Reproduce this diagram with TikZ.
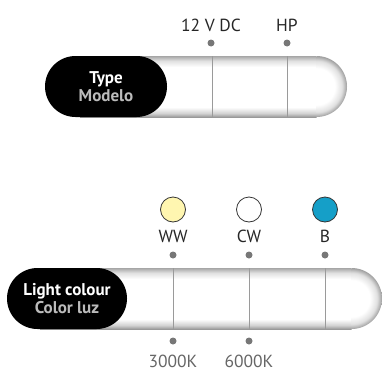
\documentclass[tikz,border=0pt]{standalone}
\usepackage{fontspec}
\setmainfont{PT Sans}
\usetikzlibrary{shapes.misc}
\definecolor{dotgray}{HTML}{777777}
\definecolor{linegray}{HTML}{9A9A9A}
\definecolor{subgray}{HTML}{BBBBBB}
\definecolor{wwfill}{HTML}{FFF6B0}
\definecolor{bfill}{HTML}{159FC8}
\pgfdeclareverticalshading{tube}{100bp}{color(0bp)=(black!40); color(25bp)=(black!40); color(28bp)=(black!18); color(33bp)=(white); color(66bp)=(white); color(71bp)=(black!12); color(75bp)=(black!35); color(100bp)=(black!35)}
\pgfdeclareradialshading{capshade}{\pgfpoint{0bp}{0bp}}{color(0bp)=(white); color(15bp)=(white); color(21bp)=(black!12); color(25bp)=(black!38); color(50bp)=(black!38)}
\tikzset{
  pill/.style={rounded rectangle, fill=black, minimum height=61pt, inner sep=0pt, align=center, font=\bfseries\fontsize{17}{18.5}\selectfont, text=white},
  dotmark/.style={circle, fill=dotgray, minimum size=7pt, inner sep=0pt},
  lbl/.style={font=\fontsize{17.5}{19}\selectfont, text=black!85, inner sep=0pt, anchor=base},
  lowlbl/.style={font=\fontsize{17.5}{19}\selectfont, text=black!60, inner sep=0pt, anchor=base},
  swatch/.style={circle, draw=black!80, line width=0.8pt, minimum size=25pt, inner sep=0pt},
  divider/.style={draw=linegray, line width=0.6pt}
}
\begin{document}
\begin{tikzpicture}[x=1pt,y=-1pt]
\useasboundingbox (0,0) rectangle (382,372);
% ---------- top tube ----------
\shade[shading=tube] (80,56) rectangle (316.5,117);
\begin{scope}
  \clip (316.5,50) rectangle (360,125);
  \shade[shading=capshade] (316.5,86.5) circle[radius=30.5];
\end{scope}
\coordinate (t1a) at (212,56); \coordinate (t1b) at (212,117);
\coordinate (t2a) at (287,56); \coordinate (t2b) at (287,117);
\draw[divider] (t1a) -- (t1b);
\draw[divider] (t2a) -- (t2b);
\node[pill, minimum width=122pt] (type) at (106,86.5) {Type\\[-1pt]\textcolor{subgray}{Modelo}};
\node[dotmark] (d1) at (211,43) {};
\node[dotmark] (d2) at (287,43) {};
\node[lbl] (l1) at (211,31) {12 V DC};
\node[lbl] (l2) at (287,31) {HP};
% ---------- bottom tube ----------
\shade[shading=tube] (40,268) rectangle (351.5,329);
\begin{scope}
  \clip (351.5,260) rectangle (390,335);
  \shade[shading=capshade] (351.5,298.5) circle[radius=30.5];
\end{scope}
\coordinate (b1a) at (173,268); \coordinate (b1b) at (173,329);
\coordinate (b2a) at (249,268); \coordinate (b2b) at (249,329);
\coordinate (b3a) at (325,268); \coordinate (b3b) at (325,329);
\draw[divider] (b1a) -- (b1b);
\draw[divider] (b2a) -- (b2b);
\draw[divider] (b3a) -- (b3b);
\node[pill, minimum width=120pt] (light) at (67,298.5) {Light colour\\[-1pt]\textcolor{subgray}{Color luz}};
\node[swatch, fill=wwfill] (sww) at (173,209.5) {};
\node[swatch, fill=white] (scw) at (249,209.5) {};
\node[swatch, fill=bfill] (sb) at (325,209.5) {};
\node[lbl] (lww) at (173,242) {WW};
\node[lbl] (lcw) at (249,242) {CW};
\node[lbl] (lb) at (325,242) {B};
\node[dotmark] (u1) at (173,255) {};
\node[dotmark] (u2) at (249,255) {};
\node[dotmark] (u3) at (325,255) {};
\node[dotmark] (w1) at (173,341) {};
\node[dotmark] (w2) at (249,341) {};
\node[lowlbl] (k1) at (173,367) {3000K};
\node[lowlbl] (k2) at (249,367) {6000K};
\end{tikzpicture}
\end{document}
